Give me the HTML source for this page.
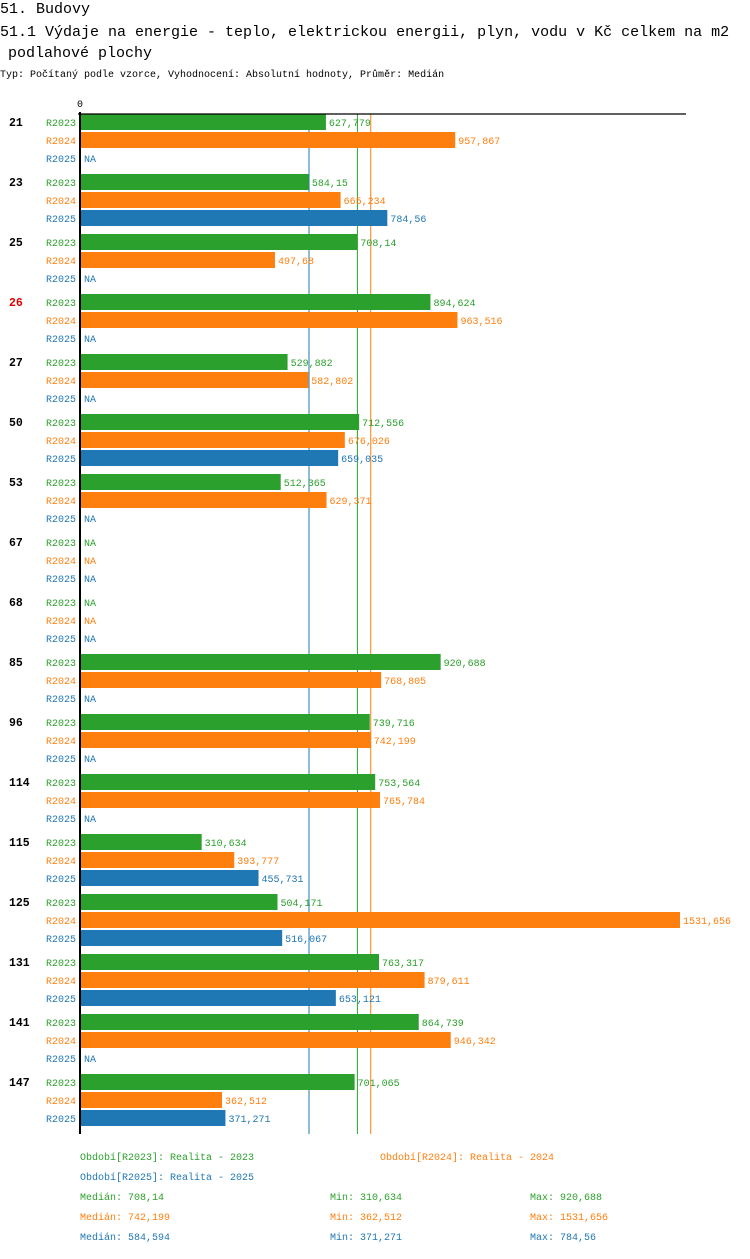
<!DOCTYPE html>
<html><head><meta charset="utf-8"><style>
body{margin:0;background:#fff;width:750px;height:1254px;overflow:hidden}
svg text{font-family:"Liberation Mono","DejaVu Sans Mono",monospace}
</style></head><body>
<svg id="c" width="750" height="1254" xmlns="http://www.w3.org/2000/svg">
<text x="0" y="13" font-size="15">51. Budovy</text>
<text x="0" y="36" font-size="15">51.1 Výdaje na energie - teplo, elektrickou energii, plyn, vodu v Kč celkem na m2</text>
<text x="8" y="57" font-size="15">podlahové plochy</text>
<text x="0" y="77" font-size="10">Typ: Počítaný podle vzorce, Vyhodnocení: Absolutní hodnoty, Průměr: Medián</text>
<g id="plot"></g>
</svg>
<script>
const categories=["21","23","25","26","27","50","53","67","68","85","96","114","115","125","131","141","147"];
const highlighted=["26"];
const series=["R2023","R2024","R2025"];
const v2023=[627.779,584.15,708.14,894.624,529.882,712.556,512.365,null,null,920.688,739.716,753.564,310.634,504.171,763.317,864.739,701.065];
const v2024=[957.867,665.234,497.68,963.516,582.802,676.026,629.371,null,null,768.805,742.199,765.784,393.777,1531.656,879.611,946.342,362.512];
const v2025=[null,784.56,null,null,null,659.035,null,null,null,null,null,null,455.731,516.067,653.121,null,371.271];
const medians=[708.14,742.199,584.594];
const mins=[310.634,362.512,371.271];
const maxs=[920.688,1531.656,784.56];
const colors=["#2ca02c","#ff7f0e","#1f77b4"];
const NS="http://www.w3.org/2000/svg";
const g=document.getElementById("plot");
const x0=80,xmax=1531.656,wmax=600;
function xs(v){return x0+v/xmax*wmax;}
function fmt(v){return String(v).replace(".",",");}
function mk(t,a,txt){const e=document.createElementNS(NS,t);for(const k in a)e.setAttribute(k,a[k]);if(txt!=null)e.textContent=txt;g.appendChild(e);return e;}
const vals=[v2023,v2024,v2025];
const plotTop=114,groupH=60,rowH=18,barH=16;
const plotBottom=plotTop+categories.length*groupH;
[2,0,1].forEach(j=>{
  let ml=mk("line",{x1:xs(medians[j]),x2:xs(medians[j]),y1:plotTop,y2:plotBottom,stroke:colors[j],"stroke-width":1});
  
  
});
categories.forEach((c,i)=>{
  const gy=plotTop+i*groupH;
  let t=mk("text",{x:9,y:gy+12,"font-size":"11.5","font-weight":"bold",fill:highlighted.includes(c)?"#e00000":"#000"},c);
  
  
  series.forEach((s,j)=>{
    const y=gy+j*rowH;
    let l=mk("text",{x:76,y:y+12,"font-size":"10","text-anchor":"end",fill:colors[j]},s);
    
    
    const v=vals[j][i];
    if(v==null){
      let n=mk("text",{x:84,y:y+12,"font-size":"10",fill:colors[j]},"NA");
      
      
    }else{
      let r=mk("rect",{x:x0,y:y,width:xs(v)-x0,height:barH,fill:colors[j]});
      
      
      let vt=mk("text",{x:xs(v)+3,y:y+12,"font-size":"10",fill:colors[j]},fmt(v));
      
      
    }
  });
});
let ax=mk("line",{x1:80,x2:80,y1:112,y2:plotBottom,stroke:"#000","stroke-width":2});


let tx=mk("line",{x1:78,x2:686,y1:114,y2:114,stroke:"#000","stroke-width":1.2});


let z=mk("text",{x:80,y:107,"font-size":"10","text-anchor":"middle"},"0");


const periods=["Realita - 2023","Realita - 2024","Realita - 2025"];
const ppos=[[80,1160],[380,1160],[80,1180]];
periods.forEach((p,j)=>{
  let e=mk("text",{x:ppos[j][0],y:ppos[j][1],"font-size":"10",fill:colors[j]},"Období["+series[j]+"]: "+p);
  
  
});
series.forEach((s,j)=>{
  const y=1200+j*20;
  let a=mk("text",{x:80,y:y,"font-size":"10",fill:colors[j]},"Medián: "+fmt(medians[j]));
  
  
  let b=mk("text",{x:330,y:y,"font-size":"10",fill:colors[j]},"Min: "+fmt(mins[j]));
  
  
  let d=mk("text",{x:530,y:y,"font-size":"10",fill:colors[j]},"Max: "+fmt(maxs[j]));
  
  
});
</script>
</body></html>
